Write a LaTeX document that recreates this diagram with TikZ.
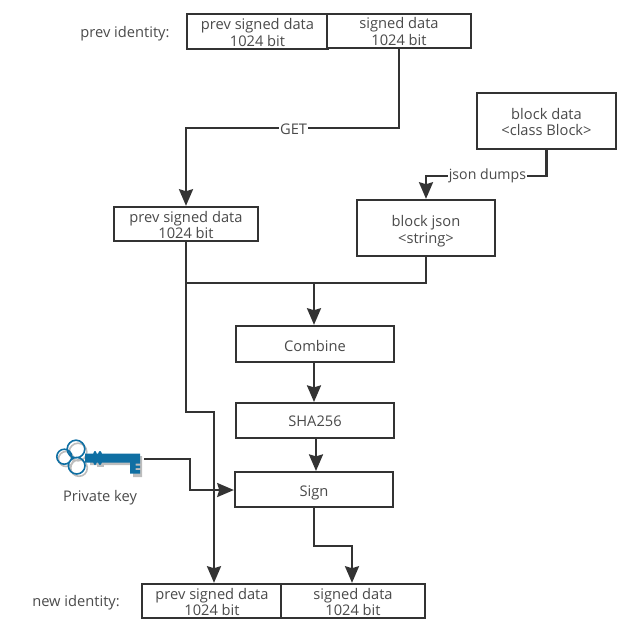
\documentclass[tikz,border=0pt]{standalone}
\usepackage{fontspec}
\setmainfont{Open Sans}
\usetikzlibrary{arrows.meta}
\definecolor{ink}{HTML}{333333}
\definecolor{txt}{HTML}{4A4A4A}
\definecolor{keyblue}{HTML}{0F6FA3}
\definecolor{keyshadow}{HTML}{BDBDBD}
\tikzset{
  x=0.75pt,y=-0.75pt,
  box/.style={draw=ink,line width=1.7pt,fill=white,text=txt,font=\fontsize{11pt}{12.5pt}\selectfont,align=center,inner sep=0pt,
    minimum width=#1*0.75pt},
  lab/.style={text=txt,font=\fontsize{11pt}{12.5pt}\selectfont,align=center,inner sep=0pt},
  edgelab/.style={lab,fill=white,inner xsep=1pt,inner ysep=1pt},
  conn/.style={draw=ink,line width=1.6pt,-{Stealth[length=12.5pt,width=10.5pt,inset=1.5pt]}},
  plainconn/.style={draw=ink,line width=1.6pt},
}
\begin{document}
\begin{tikzpicture}
\useasboundingbox (0,0) rectangle (635,640);
% boxes
\node[box=141,minimum height=26.2pt,text height=22pt,text depth=0pt] (p1) at (257.5,31.5) {prev signed data\\1024 bit};
\node[box=144,minimum height=25.5pt,text height=21pt,text depth=0pt] (s1) at (399,31) {signed data\\1024 bit};
\node[box=139,minimum height=42pt,text height=22pt,text depth=0pt] (bd) at (546.5,121) {block data\\<class Block>};
\node[box=138,minimum height=42pt,text height=23pt,text depth=0pt] (bj) at (426,228) {block json\\<string>};
\node[box=144,minimum height=25.5pt,text height=22pt,text depth=0pt] (p2) at (186,224) {prev signed data\\1024 bit};
\node[box=158,minimum height=27pt,text height=10.5pt,text depth=0pt] (cb) at (315,344) {Combine};
\node[box=158,minimum height=26pt,text height=8.25pt,text depth=0pt] (sh) at (315,420.5) {SHA256};
\node[box=158,minimum height=26pt,text height=9.8pt,text depth=0pt] (sg) at (314,489.5) {Sign};
\node[box=140,minimum height=25.5pt,text height=22pt,text depth=0pt] (p3) at (212,601) {prev signed data\\1024 bit};
\node[box=144,minimum height=25.5pt,text height=22pt,text depth=0pt] (s3) at (353,601) {signed data\\1024 bit};
% labels
\node[lab] (l1) at (125,33.5) {prev identity:};
\node[lab] (l2) at (76,603) {new identity:};
\node[lab] (l3) at (100,497.5) {Private key};
% key
\begin{scope}[line width=1.2pt]
  \draw[keyshadow] (78,452) circle (8.8*0.75pt) (66,459) circle (7.5*0.75pt) (79,468) circle (8.3*0.75pt);
  \fill[keyshadow] (90,456) -- (142,456) -- (142,477) -- (133,477) -- (133,465) -- (90,465) -- cycle;
  \fill[keyshadow] (97,454) rectangle (104,467);
  \draw[keyblue] (76,449) circle (8.8*0.75pt) (64.3,456.7) circle (7.5*0.75pt) (76.7,465.7) circle (8.3*0.75pt);
  \fill[keyblue] (85,453.5) -- (140,453.5) -- (140,463.5) -- (135.5,463.5) -- (135.5,465.5) -- (140,465.5) -- (140,468) -- (135.5,468) -- (135.5,470) -- (140,470) -- (140,473.5) -- (130,473.5) -- (130,462.5) -- (85,462.5) -- cycle;
  \fill[keyblue] (95,458) ellipse (2.2*0.75pt and 7*0.75pt) (100,458) ellipse (2.4*0.75pt and 7*0.75pt);
\end{scope}
\coordinate (k) at (144,459);
% junctions
\coordinate (m) at (314,283);
\coordinate (a) at (186,283);
\coordinate (b) at (186,412);
\coordinate (c) at (214,412);
\coordinate (d) at (190,459);
\coordinate (e) at (190,490);
\coordinate (f) at (314,546);
\coordinate (g) at (352,546);
% connectors
\draw[conn] (s1.south) |- (186,128) node[edgelab,pos=0.7475,yshift=-0.75pt] (get) {GET} -- (p2.north);
\draw[conn] (bd.south) |- (426,176) node[edgelab,pos=0.745,font=\fontsize{10.6pt}{12.5pt}\selectfont] (jd) {json dumps} -- (bj.north);
\draw[plainconn] (p2.south) -- (a) -- (m);
\draw[conn] (bj.south) |- (m) -- (m |- cb.north);
\draw[conn] (a) -- (b) -- (c) -- (c |- p3.north);
\draw[conn] (cb.south -| m) -- (m |- sh.north);
\draw[conn] ([xshift=0.75pt]sh.south) -- ([xshift=0.75pt]sh.south |- sg.north);
\draw[conn] (sg.south) -- (f) -- (g) -- (g |- s3.north);
\draw[conn] (k) -- (d) -- (e) -- (e -| sg.west);
\end{tikzpicture}
\end{document}
